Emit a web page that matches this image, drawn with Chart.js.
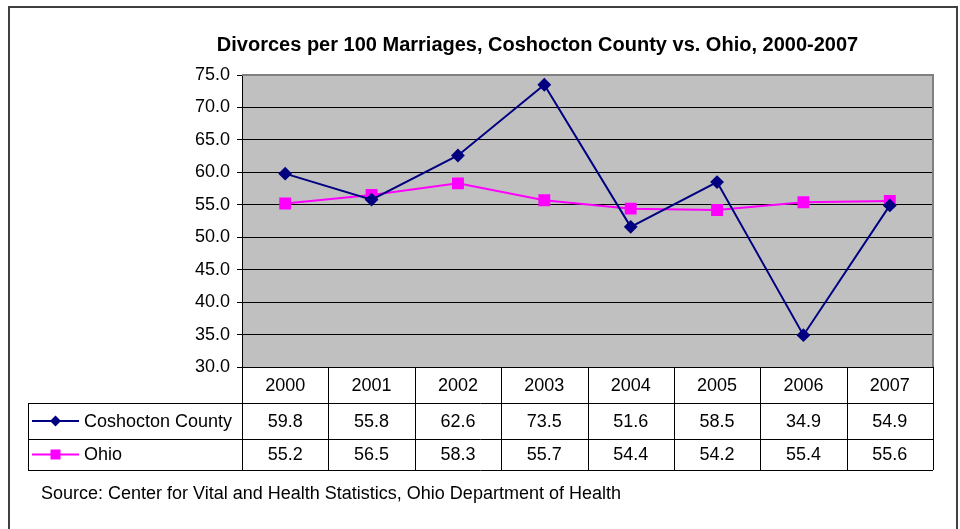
<!DOCTYPE html>
<html>
<head>
<meta charset="utf-8">
<script src="https://cdn.jsdelivr.net/npm/chart.js@4.4.0/dist/chart.umd.min.js"></script>
<style>
  body { margin: 0; background: #fff; }
  #wrap { width: 960px; height: 529px; position: relative; }
</style>
</head>
<body>
<div id="wrap"><canvas id="myChart" width="960" height="529"></canvas></div>
<script>
// datos del grafico
const years = ["2000", "2001", "2002", "2003", "2004", "2005", "2006", "2007"];
const coshocton = [59.8, 55.8, 62.6, 73.5, 51.6, 58.5, 34.9, 54.9];
const ohio = [55.2, 56.5, 58.3, 55.7, 54.4, 54.2, 55.4, 55.6];
const yMin = 30;
const yMax = 75;
const yStep = 5;

const titleText = "Divorces per 100 Marriages, Coshocton County vs. Ohio, 2000-2007";
const sourceText = "Source: Center for Vital and Health Statistics, Ohio Department of Health";

const FONT = "'Liberation Sans', Arial, sans-serif";
const NAVY = "#000080";
const MAGENTA = "#FF00FF";

// fondo gris del area del grafico
const backgroundPlugin = {
  id: "plotBg",
  beforeDraw(chart) {
    const ctx = chart.ctx;
    const a = chart.chartArea;
    ctx.save();
    ctx.fillStyle = "#fff";
    ctx.fillRect(0, 0, chart.width, chart.height);
    ctx.fillStyle = "#C0C0C0";
    ctx.fillRect(a.left, a.top, a.right - a.left, a.bottom - a.top);
    ctx.restore();
  },
};

// marcador para la leyenda de la tabla
function drawMarker(ctx, style, x, y, color) {
  ctx.fillStyle = color;
  ctx.beginPath();
  if (style === "rectRot") {
    ctx.moveTo(x - 5.5, y);
    ctx.lineTo(x, y - 5.5);
    ctx.lineTo(x + 5.5, y);
    ctx.lineTo(x, y + 5.5);
    ctx.closePath();
  } else {
    ctx.rect(x - 5, y - 5, 10, 10);
  }
  ctx.fill();
}

// tabla de datos, titulo, fuente y borde
const tablePlugin = {
  id: "dataTable",
  afterDraw(chart) {
    const ctx = chart.ctx;
    const a = chart.chartArea;
    const xs = chart.scales.x;
    const colW = (a.right - a.left) / years.length;

    ctx.save();

    // borde gris del area
    ctx.strokeStyle = "#808080";
    ctx.lineWidth = 2;
    ctx.beginPath();
    ctx.moveTo(a.left, a.top);
    ctx.lineTo(a.right, a.top);
    ctx.lineTo(a.right, a.bottom);
    ctx.stroke();

    // filas de la tabla
    const rows = [
      { top: a.bottom, bottom: 403 },
      { top: 403, bottom: 439 },
      { top: 439, bottom: 470 },
    ];
    const tableLeft = 28;

    ctx.strokeStyle = "#000";
    ctx.lineWidth = 1;
    ctx.beginPath();
    // lineas horizontales
    ctx.moveTo(a.left, a.bottom + 0.5);
    ctx.lineTo(a.right, a.bottom + 0.5);
    [403, 439, 470].forEach((y) => {
      ctx.moveTo(tableLeft, y + 0.5);
      ctx.lineTo(a.right, y + 0.5);
    });
    // lineas verticales
    ctx.moveTo(tableLeft + 0.5, 403);
    ctx.lineTo(tableLeft + 0.5, 470);
    for (let i = 0; i <= years.length; i++) {
      const x = Math.round(a.left + i * colW) + 0.5;
      ctx.moveTo(x, a.bottom);
      ctx.lineTo(x, 470);
    }
    ctx.stroke();

    ctx.fillStyle = "#000";
    ctx.font = "18px " + FONT;
    ctx.textAlign = "center";
    ctx.textBaseline = "middle";
    years.forEach((yr, i) => {
      const cx = xs.getPixelForValue(i);
      ctx.fillText(yr, cx, (rows[0].top + rows[0].bottom) / 2 + 1);
      ctx.fillText(coshocton[i].toFixed(1), cx, (rows[1].top + rows[1].bottom) / 2 + 1);
      ctx.fillText(ohio[i].toFixed(1), cx, (rows[2].top + rows[2].bottom) / 2 + 1);
    });

    // leyenda dentro de la tabla
    const series = [
      { name: "Coshocton County", color: NAVY, style: "rectRot", lw: 2, row: rows[1] },
      { name: "Ohio", color: MAGENTA, style: "rect", lw: 2, row: rows[2] },
    ];
    series.forEach((s) => {
      const cy = (s.row.top + s.row.bottom) / 2;
      ctx.strokeStyle = s.color;
      ctx.lineWidth = s.lw;
      ctx.beginPath();
      ctx.moveTo(32, cy);
      ctx.lineTo(79, cy);
      ctx.stroke();
      drawMarker(ctx, s.style, 55.5, cy, s.color);
      ctx.fillStyle = "#000";
      ctx.textAlign = "left";
      ctx.fillText(s.name, 84, cy + 1);
    });

    // titulo
    ctx.font = "bold 20px " + FONT;
    ctx.textAlign = "center";
    ctx.fillStyle = "#000";
    ctx.fillText(titleText, 537.5, 45);

    // fuente
    ctx.font = "18px " + FONT;
    ctx.textAlign = "left";
    ctx.fillText(sourceText, 41, 494);

    // borde exterior
    ctx.strokeStyle = "#404040";
    ctx.lineWidth = 2;
    ctx.strokeRect(9, 7, 948, 540);

    ctx.restore();
  },
};

var data = {
  labels: years,
  datasets: [
    {
      label: "Coshocton County",
      data: coshocton,
      borderColor: NAVY,
      backgroundColor: NAVY,
      borderWidth: 2,
      pointStyle: "rectRot",
      pointRadius: 5.5,
      pointHoverRadius: 5.5,
      tension: 0,
    },
    {
      label: "Ohio",
      data: ohio,
      borderColor: MAGENTA,
      backgroundColor: MAGENTA,
      borderWidth: 2,
      pointStyle: "rect",
      pointRadius: 7,
      pointHoverRadius: 7,
      tension: 0,
    },
  ],
};

// OPCIONES DEL GRAFICO
var options = {
  responsive: false,
  animation: false,
  layout: {
    padding: { left: 0, top: 75, right: 27, bottom: 162 },
  },
  plugins: {
    legend: { display: false },
    title: { display: false },
    tooltip: { enabled: false },
  },
  scales: {
    x: {
      display: false,
      offset: true,
    },
    y: {
      min: yMin,
      max: yMax,
      afterFit(scale) {
        scale.width = 242;
      },
      ticks: {
        stepSize: yStep,
        color: "#000",
        padding: 7,
        font: { family: FONT, size: 18 },
        callback: (v) => Number(v).toFixed(1),
      },
      grid: {
        color: (c) => (c.tick && c.tick.value === yMax ? "#808080" : "#000"),
        tickColor: "#000",
        tickLength: 5,
        lineWidth: 1,
      },
      border: { display: true, color: "#000", width: 1 },
    },
  },
};

var ctx = document.getElementById("myChart").getContext("2d");
var myChart = new Chart(ctx, {
  type: "line",
  data: data,
  options: options,
  plugins: [backgroundPlugin, tablePlugin],
});
</script>
</body>
</html>
